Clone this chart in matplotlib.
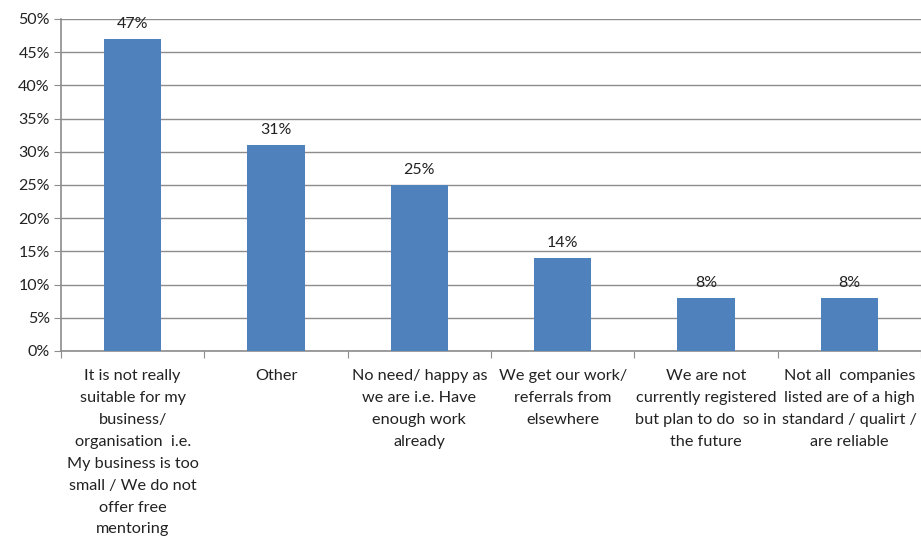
import matplotlib.pyplot as plt
import numpy as np
from matplotlib.ticker import FuncFormatter

categories = [
    "It is not really\nsuitable for my\nbusiness/\norganisation  i.e.\nMy business is too\nsmall / We do not\noffer free\nmentoring",
    "Other",
    "No need/ happy as\nwe are i.e. Have\nenough work\nalready",
    "We get our work/\nreferrals from\nelsewhere",
    "We are not\ncurrently registered\nbut plan to do  so in\nthe future",
    "Not all  companies\nlisted are of a high\nstandard / qualirt /\nare reliable",
]
values = [47, 31, 25, 14, 8, 8]

plt.rcParams['font.family'] = ['Lato', 'DejaVu Sans']

fig = plt.figure(figsize=(9.21, 5.38), dpi=100)
ax = fig.add_axes([0.0662, 0.3476, 0.9338, 0.6171])

x = np.arange(len(categories))
bars = ax.bar(x, values, width=0.4, color='#4F81BD', zorder=3)

for xi, v in zip(x, values):
    ax.annotate(f"{v}%", (xi, v), xytext=(0, 6), textcoords='offset points',
                ha='center', va='bottom', fontsize=11.5, color='#222222')

ax.set_xlim(-0.5, len(categories) - 0.5)
ax.set_ylim(0, 50)
ax.set_yticks(np.arange(0, 51, 5))
ax.yaxis.set_major_formatter(FuncFormatter(lambda v, _: f"{int(v)}%"))
ax.yaxis.grid(True, color='#8c8c8c', linewidth=1, zorder=0)

# boundary ticks between categories, labels centred under the bars
ax.set_xticks(np.arange(-0.5, len(categories), 1.0))
ax.set_xticklabels([])
ax.set_xticks(x, minor=True)
ax.set_xticklabels(categories, minor=True, fontsize=11.7, linespacing=1.72,
                   va='top', ha='center', color='#222222')
ax.tick_params(axis='x', which='major', length=5, color='#8c8c8c', direction='out')
ax.tick_params(axis='x', which='minor', length=0, pad=13)
ax.tick_params(axis='y', length=5, color='#8c8c8c', labelsize=11.5, pad=3,
               labelcolor='#222222')

for side in ['top', 'right']:
    ax.spines[side].set_visible(False)
for side in ['left', 'bottom']:
    ax.spines[side].set_color('#8c8c8c')
    ax.spines[side].set_linewidth(1.2)

fig.savefig('out.png', dpi=100)
